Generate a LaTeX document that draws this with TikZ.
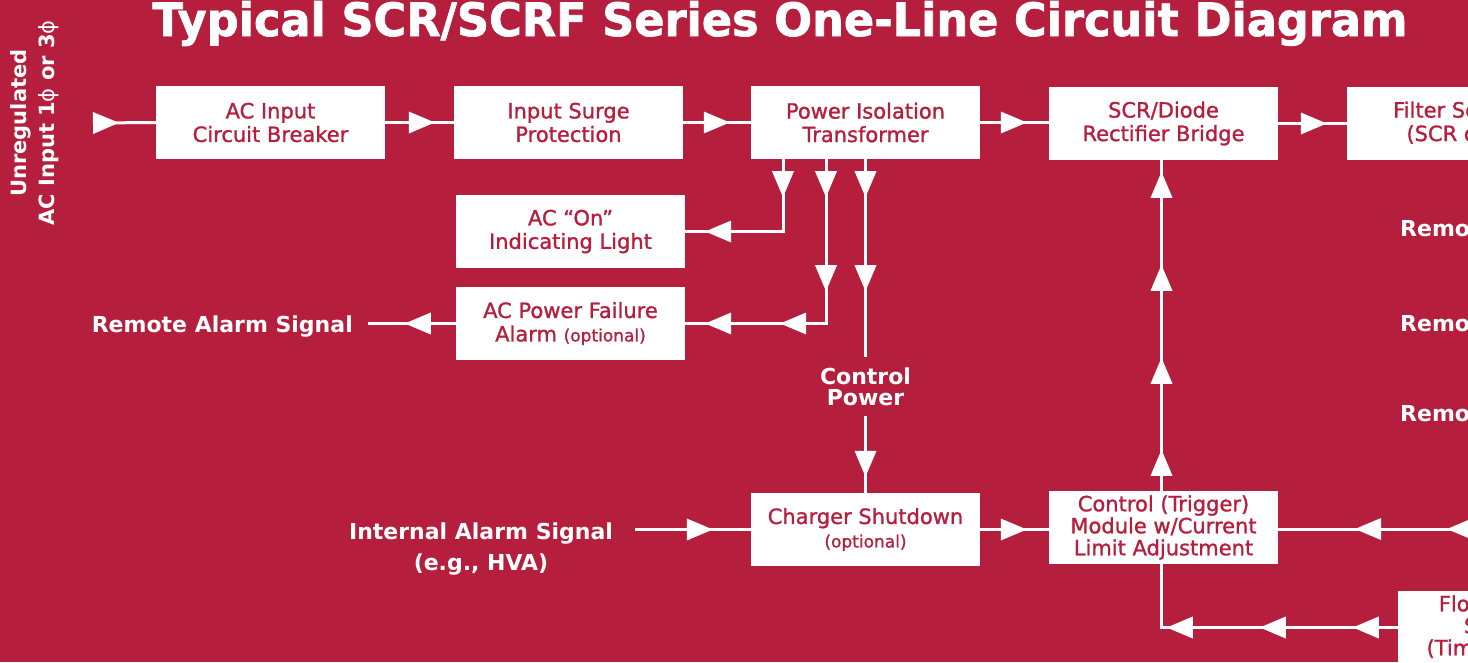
\documentclass[tikz,border=0pt]{standalone}
\usepackage{fontspec}
\setmainfont{DejaVu Sans}
\newfontfamily\boxfont{DejaVu Sans}[FakeBold=1.2]
\newfontfamily\titlefont{DejaVu Sans}[BoldFeatures={FakeBold=1.5}]
\usepackage{graphicx}
\usetikzlibrary{decorations.markings}
\definecolor{crim}{HTML}{B51F3D}
\tikzset{
  box/.style={fill=white, minimum width=229pt, minimum height=73pt, inner sep=0pt,
    align=center, text=crim, font=\boxfont\fontsize{21}{23.5}\selectfont},
  lbl/.style={text=white, font=\bfseries\fontsize{22}{31}\selectfont, align=center, inner sep=0pt},
  wire/.style={draw=white, line width=3pt},
  arr/.style={postaction={decorate,decoration={markings,
    mark=at position #1 with {\fill[white] (0pt,0pt) -- (-26pt,11pt) -- (-26pt,-11pt) -- cycle;}}}},
}
\newcommand\optsmall[1]{{\fontsize{17}{20}\selectfont #1}}
\begin{document}
\begin{tikzpicture}[x=1pt,y=-1pt]
\useasboundingbox (0,0) rectangle (1468,662);
\fill[crim] (0,0) rectangle (1468,662);
\clip (0,0) rectangle (1468,662);

% title
\node[text=white, inner sep=0pt, anchor=base] (title) at (780,36)
  {\resizebox{1255pt}{\height}{\titlefont\bfseries\fontsize{46}{46}\selectfont Typical SCR/SCRF Series One-Line Circuit Diagram}};

% source label
\node[lbl, rotate=90, font=\bfseries\fontsize{21}{28}\selectfont] (src) at (35,123)
  {Unregulated\\AC Input 1{\mdseries ϕ} or 3{\mdseries ϕ}};
\coordinate (in0) at (93,123);

% main row
\node[box] (b1) at (270.5,122.5) {AC Input\\Circuit Breaker};
\node[box] (b2) at (568.5,122.5) {Input Surge\\Protection};
\node[box] (b3) at (865.5,122.5) {Power Isolation\\Transformer};
\node[box] (b4) at (1163.5,123.5) {SCR/Diode\\Rectifier Bridge};
\node[box] (b5) at (1461.5,123.5) {Filter Section\\(SCR only)};

% side boxes
\node[box] (acon) at (570.5,231.5) {AC “On”\\Indicating Light};
\node[box] (acpf) at (570.5,323.5) {AC Power Failure\\Alarm \optsmall{(optional)}};
\node[box] (chg) at (865.5,529.5) {Charger Shutdown\\\optsmall{(optional)}};
\node[box, font=\boxfont\fontsize{21}{22}\selectfont] (ctrl) at (1163.5,527.5) {Control (Trigger)\\Module w/Current\\Limit Adjustment};
\node[box, font=\boxfont\fontsize{21}{22}\selectfont] (float) at (1512.5,627.5) {Float/Equalize\\Selectors\\(Timer Optional)};

% labels
\node[lbl, font=\bfseries\fontsize{22}{21}\selectfont, minimum height=59pt] (cp) at (865.5,386.5) {Control\\Power};
\node[lbl, anchor=east, inner xsep=15pt] (rem) at (368,327) {Remote Alarm Signal};
\node[lbl, inner xsep=22pt] (ia) at (481,549) {Internal Alarm Signal\\(e.g., HVA)};
\node[lbl, anchor=west] (r1) at (1400,229) {Remote};
\node[lbl, anchor=west] (r2) at (1400,324) {Remote};
\node[lbl, anchor=west] (r3) at (1400,414) {Remote};
\coordinate (rin) at (1500,529);

% connectors
\draw[wire, arr=26pt] (in0) -- (b1.west);
\draw[wire, arr=-19pt] (b1.east) -- (b2.west);
\draw[wire, arr=-21pt] (b2.east) -- (b3.west);
\draw[wire, arr=-22pt] (b3.east) -- (b3.east -| b4.west);
\draw[wire, arr=-20pt] (b4.east) -- (b5.west);

\draw[wire, arr=38pt, arr=-20pt] ([xshift=-82.5pt]b3.south) |- (acon.east);
\draw[wire, arr=38pt, arr=132pt, arr=-95pt, arr=-20pt] ([xshift=-39.5pt]b3.south) |- (acpf.east);
\draw[wire, arr=38pt, arr=132pt] (b3.south) -- (cp.north);
\draw[wire, arr=-16pt] (cp.south) -- (chg.north);
\draw[wire, arr=51pt] (acpf.west) -- (acpf.west -| rem.east);
\draw[wire, arr=-38pt] (ia.east |- chg.west) -- (chg.west);
\draw[wire, arr=-22pt] (chg.east) -- (chg.east -| ctrl.west);
\draw[wire, arr=41pt, arr=133pt, arr=226pt, arr=319pt] ([xshift=-2pt]ctrl.north) -- ([xshift=-2pt]b4.south);
\draw[wire, arr=53pt, arr=145pt] (rin) -- (rin -| ctrl.east);
\draw[wire, arr=45pt, arr=138pt, arr=231pt] (float.west) -| ([xshift=-2pt]ctrl.south);
\end{tikzpicture}
\end{document}
